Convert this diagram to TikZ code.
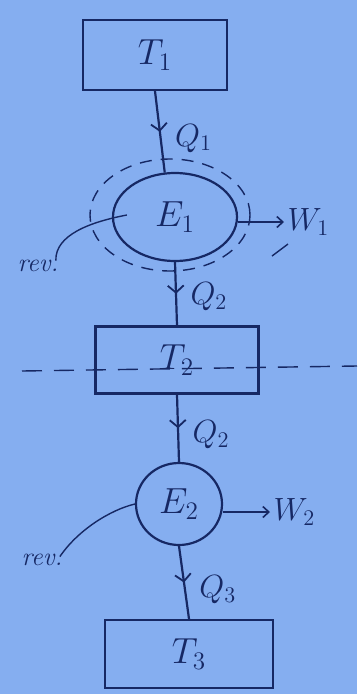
\documentclass[tikz,border=0pt]{standalone}
\usetikzlibrary{shapes.geometric,arrows.meta,decorations.markings,calc}
\definecolor{paper}{RGB}{133,174,240}
\definecolor{ink}{RGB}{22,40,100}
\newcommand{\mybig}[1]{\scalebox{1.75}{$#1$}}
\newcommand{\mymid}[1]{\scalebox{1.55}{$#1$}}
\newcommand{\myrev}[1]{\scalebox{1.3}{\textit{#1}}}
\begin{document}
\begin{tikzpicture}[x=1pt,y=-1pt,
  every node/.style={text=ink},
  res/.style={draw=ink,line width=2.2pt,rectangle,inner sep=0pt},
  eng/.style={draw=ink,line width=2.2pt,ellipse,inner sep=0pt},
  flow/.style={draw=ink,line width=2.2pt,postaction={decorate},
    decoration={markings,mark=at position 0.5 with {\arrow[line width=1.8pt]{Straight Barb[length=7pt,width=16pt]}}}},
  work/.style={draw=ink,line width=1.6pt,-{Straight Barb[length=6pt,width=11pt]}},
  big/.style={font=\fontsize{20}{24}\selectfont},
  lab/.style={font=\fontsize{20}{24}\selectfont},
  revtxt/.style={font=\fontsize{20}{24}\selectfont},
  thin/.style={draw=ink,line width=1.4pt}
]
\fill[paper] (0,0) rectangle (357,694);
\useasboundingbox (0,0) rectangle (357,694);

% reservoirs
\node[res,minimum width=144pt,minimum height=70pt,big] (T1) at (155,55) {\mybig{T_1}};
\node[res,minimum width=163pt,minimum height=67pt,big] (T2) at (177,360) {\mybig{T_2}};
\node[res,minimum width=168pt,minimum height=68pt,big] (T3) at (189,654) {\mybig{T_3}};

% engines
\node[eng,minimum width=124pt,minimum height=88pt,big] (E1) at (175,217) {\mybig{E_1}};
\node[eng,minimum width=86pt,minimum height=82pt,big] (E2) at (179,504) {\mybig{E_2}};

% dashed boundary around E1
\node[draw=ink,line width=1.4pt,ellipse,dash pattern=on 12pt off 9pt,
      minimum width=160pt,minimum height=112pt] (env) at (170,215) {};
\coordinate (s1) at (272,256);
\coordinate (s2) at (288,244);
\draw[thin] (s1) -- (s2);

% dashed line through T2
\coordinate (dl) at (22,371);
\coordinate (dr) at (357,366);
\draw[thin,dash pattern=on 20pt off 12pt] (dl) -- (dr);

% heat flows
\draw[flow] (T1.south) -- (E1.103) node[pos=0.58,right=10pt,lab] (q1) {\mymid{Q_1}};
\draw[flow] (E1.south) -- (T2.north) node[pos=0.55,right=10pt,lab] (q2a) {\mymid{Q_2}};
\draw[flow] (T2.south) -- (E2.north) node[pos=0.6,right=10pt,lab] (q2b) {\mymid{Q_2}};
\draw[flow] (E2.south) -- (T3.north) node[pos=0.6,right=10pt,lab] (q3) {\mymid{Q_3}};

% work outputs
\node[lab,anchor=west] (W1) at (284,222) {\mymid{W_1}};
\draw[work] (E1.east |- W1.west) -- (W1.west);
\node[lab,anchor=west] (W2) at (270,512) {\mymid{W_2}};
\draw[work] (E2.east |- W2.west) -- (W2.west);

% reversible labels
\node[revtxt] (r1) at (38,266) {\myrev{rev.}};
\draw[thin] ($(E1.west)+(15,-2)$) .. controls (90,222) and (55,235) .. ($(r1.north east)+(-6,4)$);
\node[revtxt] (r2) at (42,560) {\myrev{rev.}};
\draw[thin] (E2.west) .. controls (110,510) and (78,530) .. ($(r2.north east)+(-6,6)$);
\end{tikzpicture}
\end{document}
